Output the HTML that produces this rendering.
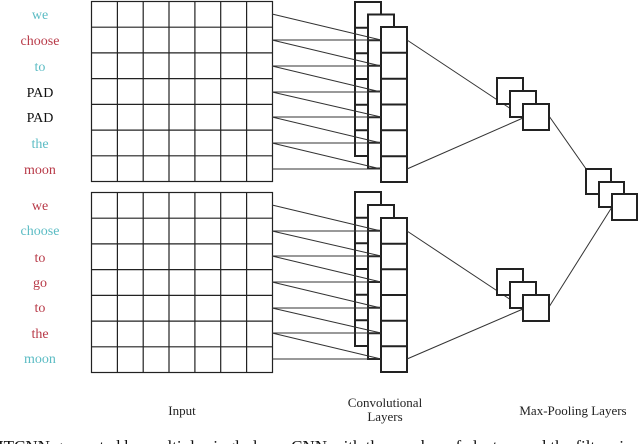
<!DOCTYPE html>
<html><head><meta charset="utf-8"><style>
html,body{margin:0;padding:0;background:#fff;width:640px;height:444px;overflow:hidden}
svg{display:block}
text{font-family:"Liberation Serif",serif}
</style></head><body>
<svg width="640" height="444" viewBox="0 0 640 444" xmlns="http://www.w3.org/2000/svg">
<g font-size="14" text-anchor="middle">
<text x="40" y="19" fill="#5cbcc4">we</text>
<text x="40" y="45" fill="#b83a48">choose</text>
<text x="40" y="71" fill="#5cbcc4">to</text>
<text x="40" y="97" fill="#111">PAD</text>
<text x="40" y="122" fill="#111">PAD</text>
<text x="40" y="148" fill="#5cbcc4">the</text>
<text x="40" y="174" fill="#b83a48">moon</text>
<text x="40" y="210" fill="#b83a48">we</text>
<text x="40" y="235" fill="#5cbcc4">choose</text>
<text x="40" y="262" fill="#b83a48">to</text>
<text x="40" y="287" fill="#b83a48">go</text>
<text x="40" y="312" fill="#b83a48">to</text>
<text x="40" y="338" fill="#b83a48">the</text>
<text x="40" y="363" fill="#5cbcc4">moon</text>
</g>
<g id="grids" stroke="#222" stroke-width="1.2" fill="none">
<rect x="91.5" y="1.5" width="181" height="180"/>
<path d="M117.4 1.5V181.5M143.2 1.5V181.5M169 1.5V181.5M194.9 1.5V181.5M220.7 1.5V181.5M246.6 1.5V181.5
M91.5 27.2H272.5M91.5 52.9H272.5M91.5 78.6H272.5M91.5 104.4H272.5M91.5 130.1H272.5M91.5 155.8H272.5"/>
<rect x="91.5" y="192.5" width="181" height="180"/>
<path d="M117.4 192.5V372.5M143.2 192.5V372.5M169 192.5V372.5M194.9 192.5V372.5M220.7 192.5V372.5M246.6 192.5V372.5
M91.5 218.2H272.5M91.5 243.9H272.5M91.5 269.6H272.5M91.5 295.4H272.5M91.5 321.1H272.5M91.5 346.8H272.5"/>
</g>
<g stroke="#222" stroke-width="2" fill="#fff">
<!-- top conv -->
<rect x="355" y="2" width="26" height="154"/>
<path d="M355 27.7H381M355 53.3H381M355 79H381M355 104.7H381M355 130.3H381" fill="none"/>
<rect x="368" y="14.5" width="26" height="154"/>
<path d="M368 40.2H394M368 65.8H394M368 91.5H394M368 117.2H394M368 142.8H394" fill="none"/>
<rect x="381" y="27" width="26" height="155"/>
<path d="M381 52.8H407M381 78.7H407M381 104.5H407M381 130.3H407M381 156.2H407" fill="none"/>
<!-- bottom conv -->
<rect x="355" y="192" width="26" height="154"/>
<path d="M355 217.7H381M355 243.3H381M355 269H381M355 294.7H381M355 320.3H381" fill="none"/>
<rect x="368" y="205" width="26" height="154"/>
<path d="M368 230.7H394M368 256.3H394M368 282H394M368 307.7H394M368 333.3H394" fill="none"/>
<rect x="381" y="218" width="26" height="154"/>
<path d="M381 243.7H407M381 269.3H407M381 295H407M381 320.7H407M381 346.3H407" fill="none"/>
</g>
<g stroke="#333" stroke-width="1" fill="none">
<path d="M272 14L381 40M272 40L381 66M272 66L381 92M272 92L381 117M272 117L381 143M272 143L381 169
M272 40H381M272 66H381M272 92H381M272 117H381M272 143H381M272 169H381"/>
<path d="M272 205L381 231M272 231L381 256M272 256L381 282M272 282L381 308M272 308L381 333M272 333L381 359
M272 231H381M272 256H381M272 282H381M272 308H381M272 333H381M272 359H381"/>
<path d="M407 40L523 117M407 169L523 118M549 116L612 206"/>
<path d="M407 231L523 308M407 359L523 309M549 307L612 207"/>
</g>
<g stroke="#222" stroke-width="2" fill="#fff">
<rect x="497" y="78" width="26" height="26"/>
<rect x="510" y="91" width="26" height="26"/>
<rect x="523" y="104" width="26" height="26"/>
<rect x="497" y="269" width="26" height="26"/>
<rect x="510" y="282" width="26" height="26"/>
<rect x="523" y="295" width="26" height="26"/>
<rect x="586" y="169" width="25" height="25"/>
<rect x="599" y="182" width="25" height="25"/>
<rect x="612" y="194" width="25" height="26"/>
</g>
<g font-size="13" text-anchor="middle" fill="#222">
<text x="182" y="415">Input</text>
<text x="385" y="407">Convolutional</text>
<text x="385" y="421">Layers</text>
<text x="573" y="415">Max-Pooling Layers</text>
</g>
<text x="-2" y="452" font-size="17" fill="#111">ITCNN generated by multiple single-layer CNN with the number of clusters and the filter size</text>
</svg>
</body></html>
